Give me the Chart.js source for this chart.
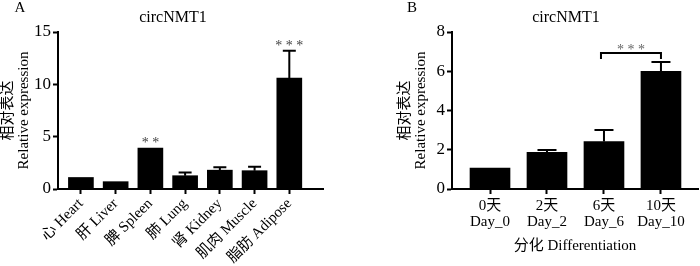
<!DOCTYPE html>
<html>
<head>
<meta charset="utf-8">
<script src="https://cdn.jsdelivr.net/npm/chart.js"></script>
<style>
body { margin: 0; background: #fff; }
#wrap { position: relative; width: 700px; height: 266px; }
.panel { position: absolute; top: 0; width: 350px; height: 266px; }
</style>
</head>
<body>
<div id="wrap">
  <div class="panel" style="left:0"><canvas id="chartA" width="350" height="266"></canvas></div>
  <div class="panel" style="left:350px"><canvas id="chartB" width="350" height="266"></canvas></div>
</div>
<script>
// panel A: tissues
var tissueLabels = ['心 Heart', '肝 Liver', '脾 Spleen', '肺 Lung', '肾 Kidney', '肌肉 Muscle', '脂肪 Adipose'];
var tissueValues = [1.1, 0.7, 3.9, 1.27, 1.8, 1.75, 10.6];
var tissueErrors = [0, 0, 0, 0.3, 0.27, 0.38, 2.6];
var tissueStars = ['', '', '**', '', '', '', '***'];
var tissueTicks = [0, 5, 10, 15];

// panel B: differentiation days
var dayLabels = [['0天', 'Day_0'], ['2天', 'Day_2'], ['6天', 'Day_6'], ['10天', 'Day_10']];
var dayValues = [1.06, 1.87, 2.42, 5.99];
var dayErrors = [0, 0.12, 0.59, 0.48];
var dayBracket = [2, 3, '***'];
var dayTicks = [0, 2, 4, 6, 8];

var FONT = "'Liberation Serif', 'Noto Sans CJK SC', serif";
var yTitle = ['相对表达', 'Relative expression'];

function errorPlugin(values, errors, cap) {
    return {
        id: 'errorBars',
        afterDatasetsDraw: function (chart) {
            var ctx = chart.ctx, xs = chart.scales.x, ys = chart.scales.y;
            ctx.save();
            ctx.strokeStyle = '#000';
            ctx.lineWidth = 2;
            values.forEach(function (v, i) {
                if (!errors[i]) return;
                var x = xs.getPixelForValue(i);
                var y0 = ys.getPixelForValue(v);
                var y1 = ys.getPixelForValue(v + errors[i]);
                ctx.beginPath();
                ctx.moveTo(x, y0);
                ctx.lineTo(x, y1);
                ctx.moveTo(x - cap / 2, y1);
                ctx.lineTo(x + cap / 2, y1);
                ctx.stroke();
            });
            ctx.restore();
        }
    };
}

function textPlugin(letter, lx, title, tx) {
    return {
        id: 'panelText',
        afterDraw: function (chart) {
            var ctx = chart.ctx;
            ctx.save();
            ctx.fillStyle = '#000';
            ctx.textBaseline = 'middle';
            ctx.textAlign = 'center';
            ctx.font = '15px ' + FONT;
            ctx.fillText(letter, lx, 8);
            ctx.font = '16px ' + FONT;
            ctx.fillText(title, tx, 18);
            ctx.restore();
        }
    };
}

var starsPlugin = {
    id: 'stars',
    afterDatasetsDraw: function (chart) {
        var ctx = chart.ctx, xs = chart.scales.x, ys = chart.scales.y;
        ctx.save();
        ctx.fillStyle = '#444';
        ctx.textAlign = 'center';
        ctx.textBaseline = 'alphabetic';
        ctx.font = '14px ' + FONT;
        tissueStars.forEach(function (s, i) {
            if (!s) return;
            var y = ys.getPixelForValue(tissueValues[i] + tissueErrors[i]);
            ctx.fillText(s.split('').join(' '), xs.getPixelForValue(i), y - 1);
        });
        ctx.restore();
    }
};

var bracketPlugin = {
    id: 'bracket',
    afterDatasetsDraw: function (chart) {
        var ctx = chart.ctx, xs = chart.scales.x, ys = chart.scales.y;
        var a = dayBracket[0], b = dayBracket[1];
        var top = Math.max(dayValues[a] + dayErrors[a], dayValues[b] + dayErrors[b]);
        var y = ys.getPixelForValue(top) - 9;
        var x1 = xs.getPixelForValue(a) - 3, x2 = xs.getPixelForValue(b);
        ctx.save();
        ctx.strokeStyle = '#000';
        ctx.lineWidth = 2;
        ctx.beginPath();
        ctx.moveTo(x1, y + 6);
        ctx.lineTo(x1, y);
        ctx.lineTo(x2, y);
        ctx.lineTo(x2, y + 6);
        ctx.stroke();
        ctx.fillStyle = '#666';
        ctx.textAlign = 'center';
        ctx.textBaseline = 'alphabetic';
        ctx.font = '14px ' + FONT;
        ctx.fillText(dayBracket[2].split('').join(' '), (x1 + x2) / 2, y + 1);
        ctx.restore();
    }
};

function gridOpts() {
    return { offset: false, drawOnChartArea: false, drawTicks: true, tickLength: 5, tickWidth: 2, tickColor: '#000' };
}

// chart A
new Chart(document.getElementById('chartA').getContext('2d'), {
    type: 'bar',
    data: {
        datasets: [{
            data: tissueValues.map(function (v, i) { return { x: i, y: v }; }),
            backgroundColor: '#000',
            borderWidth: 0,
            barThickness: 25
        }]
    },
    options: {
        responsive: false,
        animation: false,
        layout: { padding: { top: 32, right: 27, left: 0, bottom: 0 } },
        plugins: { legend: { display: false }, tooltip: { enabled: false } },
        scales: {
            x: {
                type: 'linear',
                offset: false,
                min: -0.66,
                max: 6.97,
                afterBuildTicks: function (s) { s.ticks = tissueLabels.map(function (_, i) { return { value: i }; }); },
                afterFit: function (s) { s.height = 77; },
                ticks: {
                    callback: function (v) { return tissueLabels[v]; },
                    minRotation: 45, maxRotation: 45, autoSkip: false,
                    color: '#000', padding: 1,
                    font: { family: FONT, size: 15 }
                },
                grid: gridOpts(),
                border: { color: '#000', width: 2 }
            },
            y: {
                min: 0,
                max: 15,
                afterBuildTicks: function (s) { s.ticks = tissueTicks.map(function (v) { return { value: v }; }); },
                afterFit: function (s) { s.width = 58; },
                ticks: { color: '#000', padding: 2, font: { family: FONT, size: 17 } },
                grid: gridOpts(),
                border: { color: '#000', width: 2 },
                title: {
                    display: true, text: yTitle, color: '#000',
                    font: { family: FONT, size: 15, lineHeight: 1.07 },
                    padding: { top: 0, bottom: 0 }
                }
            }
        }
    },
    plugins: [errorPlugin(tissueValues, tissueErrors, 13), starsPlugin, textPlugin('A', 20, 'circNMT1', 173)]
});

// chart B
new Chart(document.getElementById('chartB').getContext('2d'), {
    type: 'bar',
    data: {
        datasets: [{
            data: dayValues.map(function (v, i) { return { x: i, y: v }; }),
            backgroundColor: '#000',
            borderWidth: 0,
            barThickness: 40
        }]
    },
    options: {
        responsive: false,
        animation: false,
        layout: { padding: { top: 32, right: 2, left: 0, bottom: 0 } },
        plugins: { legend: { display: false }, tooltip: { enabled: false } },
        scales: {
            x: {
                type: 'linear',
                offset: false,
                min: -0.667,
                max: 3.65,
                afterBuildTicks: function (s) { s.ticks = dayLabels.map(function (_, i) { return { value: i }; }); },
                afterFit: function (s) { s.height = 77; },
                ticks: {
                    callback: function (v) { return dayLabels[v]; },
                    maxRotation: 0, autoSkip: false,
                    color: '#000', padding: 4,
                    font: { family: FONT, size: 15, lineHeight: 1.05 }
                },
                grid: gridOpts(),
                border: { color: '#000', width: 2 },
                title: {
                    display: true, text: '分化 Differentiation', color: '#000',
                    font: { family: FONT, size: 15, lineHeight: 1.07 },
                    padding: { top: 0, bottom: 12 }
                }
            },
            y: {
                min: 0,
                max: 8,
                afterBuildTicks: function (s) { s.ticks = dayTicks.map(function (v) { return { value: v }; }); },
                afterFit: function (s) { s.width = 102; },
                ticks: { color: '#000', padding: 2, font: { family: FONT, size: 17 } },
                grid: gridOpts(),
                border: { color: '#000', width: 2 },
                title: {
                    display: true, text: yTitle, color: '#000',
                    font: { family: FONT, size: 15, lineHeight: 1.07 },
                    padding: { top: 47, bottom: 0 }
                }
            }
        }
    },
    plugins: [errorPlugin(dayValues, dayErrors, 19), bracketPlugin, textPlugin('B', 62, 'circNMT1', 216)]
});
</script>
</body>
</html>
